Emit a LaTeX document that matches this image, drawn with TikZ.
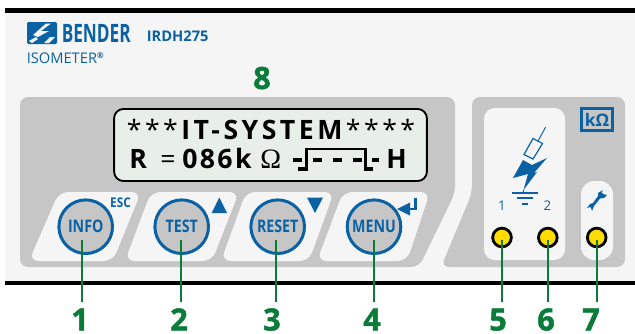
\documentclass[tikz,border=0pt]{standalone}
\usepackage{fontspec}
\setmainfont{Open Sans}
\newfontfamily\lcdserif{Liberation Serif}
\newfontfamily\numf[FakeBold=1.4]{Open Sans}
\definecolor{bblue}{HTML}{0A62A4}
\definecolor{panel}{HTML}{F5F5F5}
\definecolor{pgray}{HTML}{C6C6C6}
\definecolor{lcd}{HTML}{E8EFE8}
\definecolor{bgreen}{HTML}{0B7B3A}
\definecolor{led}{HTML}{FFDC00}
\newcommand{\btnt}[1]{\scalebox{.82}[1]{#1}}
\tikzset{
  x=0.75pt,y=-0.75pt,
  keypad/.style={fill=panel,rounded corners=7pt},
  btn/.style={circle,draw=bblue,line width=2.25pt,fill=pgray,minimum size=40.2pt,inner sep=0pt,text=bblue,font=\bfseries\fontsize{13}{13}\selectfont},
  ledn/.style={circle,draw=black,line width=2.1pt,fill=led,minimum size=14pt,inner sep=0pt},
  callout/.style={draw=bgreen,line width=1.1pt},
  num/.style={text=bgreen,font=\numf\bfseries\fontsize{23}{23}\selectfont,inner sep=0pt,anchor=base},
  lcdt/.style={text=black,font=\fontsize{20}{20}\selectfont,inner sep=0pt,anchor=base},
  lab/.style={text=bblue,inner sep=0pt}
}
\begin{document}
\begin{tikzpicture}
\useasboundingbox (0,0) rectangle (635,333);
\fill[white] (0,0) rectangle (635,333);
\fill[panel] (5,12) rectangle (635,281);
\fill[black] (5,8) rectangle (635,12.5);
\fill[black] (5,280.5) rectangle (635,284.5);
% gray panels
\fill[pgray,rounded corners=6pt] (20,97) -- (455,97) -- (455,193) -- (419,267) -- (20,267) -- cycle;
\fill[pgray,rounded corners=6pt] (472,97) -- (625,97) -- (625,267) -- (441,267) -- (472,193) -- cycle;
% key pads
\fill[keypad] (59,192) -- (141,192) -- (113,261) -- (29,261) -- cycle;
\fill[keypad] (151,192) -- (239,192) -- (212,261) -- (125,261) -- cycle;
\fill[keypad] (246,192) -- (334,192) -- (309,261) -- (221,261) -- cycle;
\fill[keypad] (343,192) -- (430,192) -- (407,261) -- (317,261) -- cycle;
% white zones
\fill[panel,rounded corners=8pt] (484,108) rectangle (565,260);
\fill[panel,rounded corners=10pt] (581,181) rectangle (613,260);
% LCD
\node[draw=black,line width=1.4pt,fill=lcd,rounded corners=7pt,minimum width=234.6pt,minimum height=54pt,inner sep=0pt] (disp) at (270.5,145) {};
\node[lcdt] (l1) at (271,139.5) {\addfontfeatures{LetterSpace=13}***\textbf{IT-SYSTEM}****};
\node[lcdt,anchor=base west] (r) at (129,168.5) {\textbf{R}};
\node[lcdt,anchor=base west] (eq) at (160,168.5) {=};
\node[lcdt,anchor=base west] (val) at (182,168.5) {\addfontfeatures{LetterSpace=9}\textbf{086k}};
\node[lcdt,anchor=base west,font=\fontsize{21}{21}\selectfont] (om) at (260,168.5) {\lcdserif Ω};
\node[lcdt,anchor=base west] (hh) at (386,168.5) {\textbf{H}};
\draw[line width=1.5pt,line join=miter] (306.7,148.5) -- (365.5,148.5);
\draw[line width=2.2pt] (306.7,147.5) -- (306.7,169);
\draw[line width=2.2pt] (365.5,147.5) -- (365.5,169);
\draw[line width=2.6pt] (298,169) -- (308,169) (364,169) -- (373,169);
\draw[line width=3pt] (293,160) -- (302,160) (313,160) -- (322,160) (333,160) -- (342,160) (353,160) -- (362,160) (372,160) -- (379,160);
% buttons
\node[btn] (b1) at (85.7,226.7) {\btnt{INFO}};
\node[btn] (b2) at (181.7,226.7) {\btnt{TEST}};
\node[btn] (b3) at (277.7,226.7) {\btnt{RESET}};
\node[btn] (b4) at (374,226.7) {\btnt{MENU}};
\node[lab,font=\bfseries\fontsize{10}{10}\selectfont] (esc) at (120.5,203) {\scalebox{.88}[1]{ESC}};
\fill[bblue] (219.3,197.5) -- (211.7,213) -- (227,213) -- cycle;
\fill[bblue] (307,197.5) -- (323,197.5) -- (315,213) -- cycle;
\draw[bblue,line width=2pt] (415.5,198) -- (415.5,209) -- (405,209);
\fill[bblue] (397,209) -- (410,202.5) -- (410,215.5) -- cycle;
% BENDER logo and titles
\fill[bblue,rounded corners=1pt] (27,22) rectangle (57,44);
\fill[panel] (33,35) -- (46,23.5) -- (51,23.5) -- (41,31) -- (49,31) -- (38,37) -- cycle;
\fill[panel] (29,41) -- (36,37) -- (38,39) -- (32,43) -- cycle;
\fill[panel] (44,43) -- (50,37) -- (55,37) -- (49,43) -- cycle;
\node[lab,font=\fontsize{19}{19}\selectfont,anchor=base west] (bender) at (61.5,42) {\scalebox{.68}[1]{\textbf{BENDER}}};
\node[lab,font=\bfseries\fontsize{11}{11}\selectfont,anchor=base west] (model) at (146.5,41) {IRDH275};
\node[lab,font=\fontsize{11}{11}\selectfont,anchor=base west] (iso) at (26.5,63) {ISOMETER\raisebox{3.5pt}{\fontsize{6}{6}\selectfont\bfseries ®}};
% lightning
\fill[bblue] (523,160) -- (532,165) -- (547,158) -- (534,173) -- (537,172) -- (523.5,190) -- (528,174) -- (513,178) -- cycle;
\draw[bblue,line width=.7pt] (545.7,127) -- (538,141);
\draw[bblue,line width=.9pt,fill=panel] (533,138.5) -- (542.5,143.5) -- (533,159) -- (524,154.5) -- cycle;
\draw[bblue,line width=.7pt] (524,190) -- (523,192);
\draw[bblue,line width=1.5pt] (512,192.7) -- (538,192.7) (517,198.3) -- (533,198.3);
\draw[bblue,line width=1.5pt] (522,203.7) -- (528,203.7);
\node[lab,font=\fontsize{10}{10}\selectfont] (n1) at (502,206) {1};
\node[lab,font=\fontsize{10}{10}\selectfont] (n2) at (547.5,206) {2};
% k ohm
\node[draw=bblue,line width=2pt,fill=pgray,minimum width=23.5pt,minimum height=16.7pt,inner sep=0pt,text=bblue,font=\bfseries\fontsize{13}{13}\selectfont] (kohm) at (597,119.5) {kΩ};
% spanner
\fill[bblue] (603,190) -- (601.5,192.5) -- (603,194) -- (607,195) -- (604,198) -- (600,198.5) -- (594,206) -- (592,211) -- (591,208) -- (590,207) -- (587,208) -- (590,204) -- (593,203) -- (598,196) -- (598,193) -- cycle;
% LEDs
\node[ledn] (d5) at (502,237.5) {};
\node[ledn] (d6) at (547.8,237.5) {};
\node[ledn] (d7) at (596.7,237.5) {};
% numbers
\node[num] (c1) at (80,330.5) {1};
\node[num] (c2) at (179,330.5) {2};
\node[num] (c3) at (272,330.5) {3};
\node[num] (c4) at (372,330.5) {4};
\node[num] (c5) at (498,330.5) {5};
\node[num] (c6) at (546,330.5) {6};
\node[num] (c7) at (591,330.5) {7};
\node[num] (c8) at (262,89) {8};
\coordinate (t1) at (82,240);
\coordinate (t2) at (181,240);
\coordinate (t3) at (276,240);
\coordinate (t4) at (374,240);
\coordinate (t5) at (502,240);
\coordinate (t6) at (548,240);
\coordinate (t7) at (597,240);
\draw[callout] (t1) -- (82,302);
\draw[callout] (t2) -- (181,302);
\draw[callout] (t3) -- (276,302);
\draw[callout] (t4) -- (374,302);
\draw[callout] (t5) -- (502,302);
\draw[callout] (t6) -- (548,302);
\draw[callout] (t7) -- (597,302);
\end{tikzpicture}
\end{document}
